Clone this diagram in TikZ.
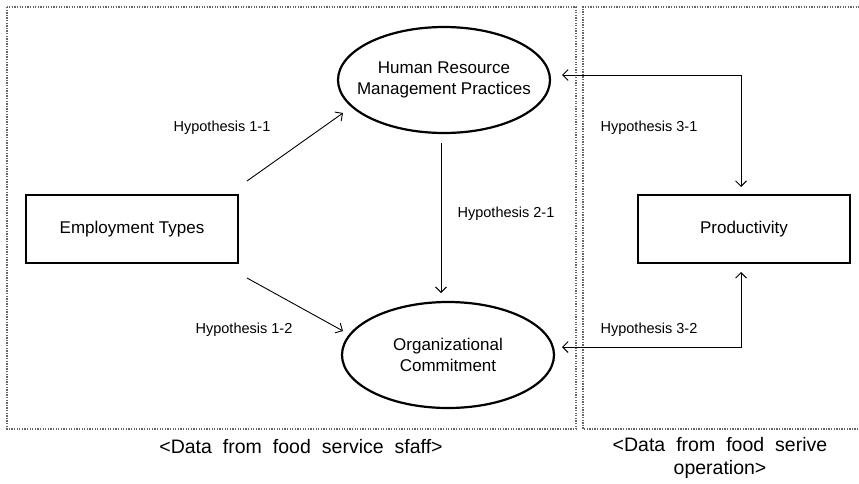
\documentclass[tikz,border=0pt]{standalone}
\usepackage{fontspec}
\setmainfont{Liberation Sans}
\usetikzlibrary{arrows.meta,shapes.geometric}
\newcommand{\wsp}{\hspace{11pt}}
\begin{document}
\begin{tikzpicture}[x=1pt,y=-1pt,
  dotbox/.style={draw=black!60,line width=1.6pt,dash pattern=on 1.3pt off 1.3pt},
  oval/.style={ellipse,draw,line width=2.2pt,minimum width=212pt,minimum height=106pt,inner xsep=-30pt,inner ysep=0pt,align=center,font=\fontsize{17}{21}\selectfont},
  rectbox/.style={rectangle,draw,line width=2.4pt,minimum width=212pt,minimum height=68pt,inner sep=0pt,font=\fontsize{17}{21}\selectfont},
  hyp/.style={font=\fontsize{14.5}{17}\selectfont,inner sep=0pt},
  captext/.style={font=\fontsize{19.5}{23}\selectfont,inner sep=0pt,align=center},
  conn/.style={line width=0.9pt,-{Straight Barb[length=5.5pt,width=11pt,line width=0.9pt]}},
  bconn/.style={line width=0.9pt,{Straight Barb[length=5.5pt,width=11pt,line width=0.9pt]}-{Straight Barb[length=5.5pt,width=11pt,line width=0.9pt]}}
]
\useasboundingbox (0,0) rectangle (859,483);
\draw[dotbox] (7,7) rectangle (576,429);
\draw[dotbox] (862,7) -- (583,7) -- (583,429) -- (862,429);

\node[oval] (hrm) at (444,80) {Human Resource\\Management Practices};
\node[oval] (oc) at (448,355) {Organizational\\Commitment};
\node[rectbox] (emp) at (132,229) {Employment Types};
\node[rectbox] (prod) at (744,229) {Productivity};

\coordinate (e1) at (247,181);
\coordinate (e2) at (247,278);
\coordinate (t1) at (343,113);
\coordinate (t2) at (343,331);
\coordinate (h2s) at (441,143);
\coordinate (h2e) at (441,293);
\coordinate (c31) at (741,75);
\coordinate (a31) at (562,75);
\coordinate (p31) at (741,187);
\coordinate (c32) at (741,347);
\coordinate (a32) at (562,347);
\coordinate (p32) at (741,272);

\draw[conn] (e1) -- (t1);
\draw[conn] (e2) -- (t2);
\draw[conn] (h2s) -- (h2e);
\draw[bconn] (a31) -- (c31) -- (p31);
\draw[bconn] (a32) -- (c32) -- (p32);

\node[hyp] (l11) at (222,128) {Hypothesis 1-1};
\node[hyp] (l12) at (244,330) {Hypothesis 1-2};
\node[hyp] (l21) at (506,214) {Hypothesis 2-1};
\node[hyp] (l31) at (649,128) {Hypothesis 3-1};
\node[hyp] (l32) at (649,330) {Hypothesis 3-2};

\node[captext] (cl) at (301,447) {<Data\wsp from\wsp food\wsp service\wsp sfaff>};
\node[captext,anchor=north] (cr) at (720,437) {<Data\wsp from\wsp food\wsp serive\\operation>};
\end{tikzpicture}
\end{document}
